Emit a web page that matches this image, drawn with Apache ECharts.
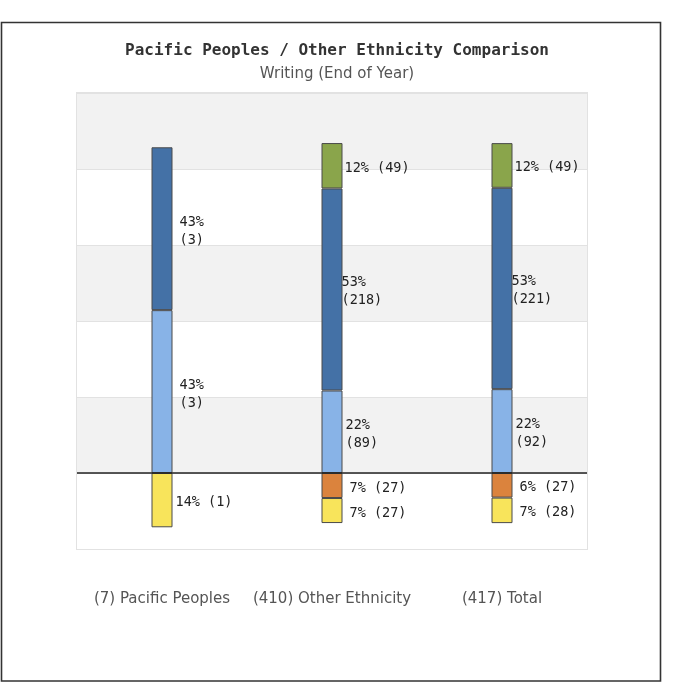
<!DOCTYPE html>
<html>
<head>
<meta charset="utf-8">
<script src="https://cdn.jsdelivr.net/npm/echarts@6/dist/echarts.min.js"></script>
<style>
  html, body { margin: 0; padding: 0; background: #fff; }
  #chart { width: 675px; height: 690px; }
</style>
</head>
<body>
<div id="chart"></div>
<script>
// Groups compared and the number of students in each
const categories = ['Pacific Peoples', 'Other Ethnicity', 'Total'];
const groupTotals = [7, 410, 417];

// Student counts per achievement band, per group
const countsWellBelow = [1, 27, 28];
const countsBelow = [0, 27, 27];
const countsAt = [3, 89, 92];
const countsAbove = [3, 218, 221];
const countsWellAbove = [0, 49, 49];

// Percentage scale of the value axis
const yMin = -20;
const yMax = 100;
const yStep = 20;

// Horizontal nudges for the value labels (px), per group
const shiftAt = [7, 3, 3];
const shiftAbove = [7, -1, -1];
const shiftWellAbove = [0, 2, 2];
const shiftBelow = [0, 7, 7];
const shiftWellBelow = [3, 7, 7];

function pctData(counts, sign, shifts) {
  return counts.map(function (c, i) {
    if (!c) return null;
    const pct = c / groupTotals[i] * 100;
    return { value: sign * pct, count: c, pct: pct, label: { offset: [shifts[i], 2.5] } };
  });
}

function labelFmt(sep) {
  return function (p) {
    if (!p.data) return '';
    return Math.round(p.data.pct) + '%' + sep + '(' + p.data.count + ')';
  };
}

const labelBase = {
  show: true,
  position: 'right',
  distance: 0,
  color: '#222',
  fontFamily: 'DejaVu Sans Mono',
  fontSize: 13.5,
  lineHeight: 18
};

function barSeries(name, data, color, sep) {
  return {
    name: name,
    type: 'bar',
    stack: 'bands',
    barWidth: 21,
    data: data,
    itemStyle: { color: color, borderColor: '#4a4a4a', borderWidth: 1 },
    label: Object.assign({}, labelBase, { formatter: labelFmt(sep) })
  };
}

const series = [
  barSeries('At', pctData(countsAt, 1, shiftAt), '#88b3e7', '\n'),
  barSeries('Above', pctData(countsAbove, 1, shiftAbove), '#4471a6', '\n'),
  barSeries('Well Above', pctData(countsWellAbove, 1, shiftWellAbove), '#8aa54b', ' '),
  barSeries('Below', pctData(countsBelow, -1, shiftBelow), '#db833d', ' '),
  barSeries('Well Below', pctData(countsWellBelow, -1, shiftWellBelow), '#f8e45b', ' ')
];

// Zero baseline
series[0].markLine = {
  silent: true,
  symbol: ['none', 'none'],
  label: { show: false },
  lineStyle: { color: '#222', width: 1.5, type: 'solid' },
  data: [{ yAxis: 0 }]
};

const chart = echarts.init(document.getElementById('chart'), null, { renderer: 'canvas' });
chart.setOption({
  animation: false,
  backgroundColor: '#fff',
  title: {
    text: 'Pacific Peoples / Other Ethnicity Comparison',
    subtext: 'Writing (End of Year)',
    left: 332,
    textAlign: 'center',
    top: 38,
    itemGap: 8,
    textStyle: {
      fontFamily: 'DejaVu Sans Mono',
      fontWeight: 'bold',
      fontSize: 16,
      color: '#333'
    },
    subtextStyle: {
      fontFamily: 'DejaVu Sans',
      fontSize: 15,
      color: '#555'
    }
  },
  graphic: [{
    type: 'rect',
    silent: true,
    shape: { x: 1.5, y: 22.5, width: 659, height: 658.5 },
    style: { fill: null, stroke: '#333', lineWidth: 1.6 }
  }],
  grid: {
    left: 77, right: 88, top: 93, bottom: 141,
    show: true,
    borderColor: '#e2e2e2',
    borderWidth: 2
  },
  xAxis: {
    type: 'category',
    data: categories,
    axisLine: { show: false, onZero: false },
    axisTick: { show: false },
    splitLine: { show: false },
    axisLabel: {
      interval: 0,
      hideOverlap: false,
      margin: 43,
      color: '#555',
      fontFamily: 'DejaVu Sans',
      fontSize: 15,
      formatter: function (v, i) { return '(' + groupTotals[i] + ') ' + v; }
    }
  },
  yAxis: {
    type: 'value',
    min: yMin,
    max: yMax,
    interval: yStep,
    axisLabel: { show: false },
    axisLine: { show: false },
    axisTick: { show: false },
    splitLine: { lineStyle: { color: '#e2e2e2', width: 1 } },
    splitArea: { show: true, areaStyle: { color: ['#ffffff', '#f2f2f2'] } }
  },
  series: series
});
</script>
</body>
</html>
